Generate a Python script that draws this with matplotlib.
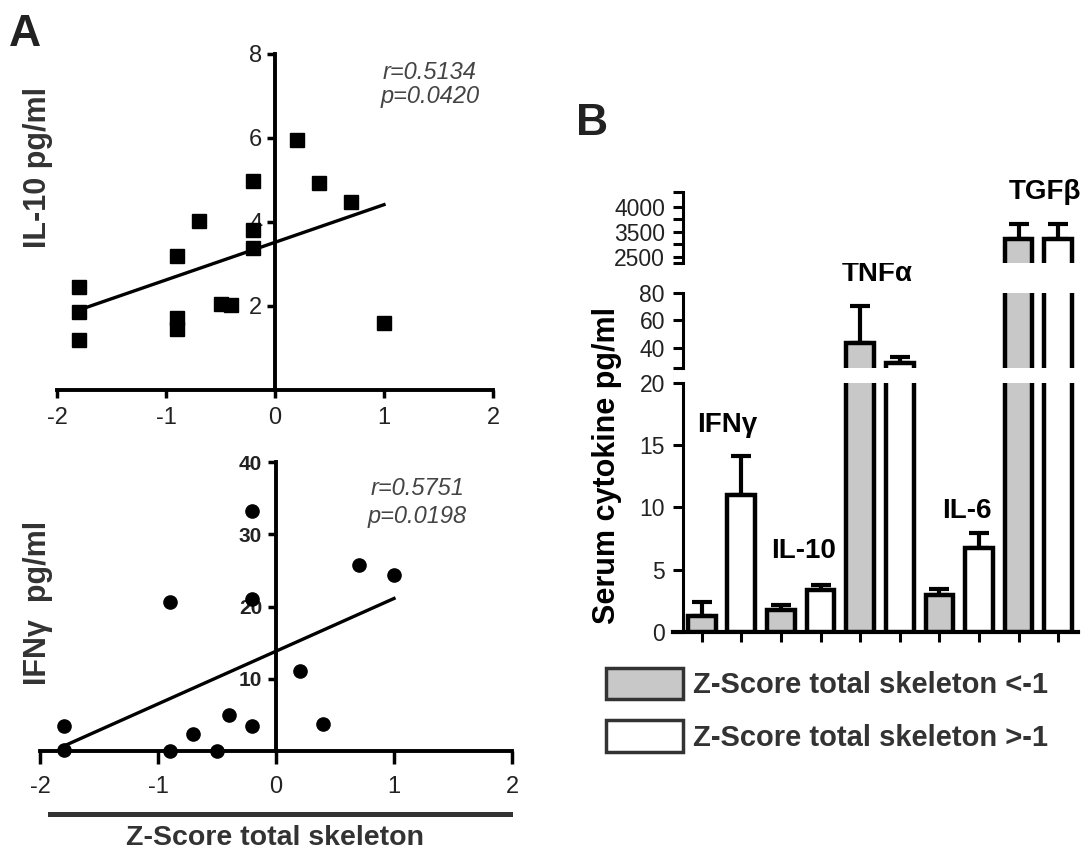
import numpy as np
import matplotlib
matplotlib.use("Agg")
import matplotlib.pyplot as plt
from matplotlib.patches import Patch
from matplotlib.lines import Line2D

plt.rcParams["font.family"] = ["Liberation Sans", "DejaVu Sans"]
plt.rcParams["axes.unicode_minus"] = False

# panel A, top: IL-10 vs z-score
il10_z = [-1.8, -1.8, -1.8, -0.9, -0.9, -0.9, -0.7, -0.5, -0.4, -0.2, -0.2, -0.2, 0.2, 0.4, 0.7, 1.0]
il10_val = [2.45, 1.85, 1.2, 3.2, 1.72, 1.45, 4.02, 2.05, 2.03, 4.97, 3.82, 3.38, 5.95, 4.93, 4.48, 1.6]
il10_stats = ["r=0.5134", "p=0.0420"]

# panel A, bottom: IFNg vs z-score
ifng_z = [-1.8, -1.8, -0.9, -0.9, -0.7, -0.5, -0.4, -0.2, -0.2, -0.2, 0.2, 0.4, 0.7, 1.0]
ifng_val = [3.5, 0.2, 20.6, 0.05, 2.4, 0.05, 5.0, 3.5, 21.1, 33.2, 11.1, 3.8, 25.8, 24.4]
ifng_stats = ["r=0.5751", "p=0.0198"]

# panel B: serum cytokines by group
cytokines = ["IFNγ", "IL-10", "TNFα", "IL-6", "TGFβ"]
low_mean = [1.3, 1.8, 43.5, 3.0, 3220]
low_err = [1.1, 0.4, 27.0, 0.45, 440]
high_mean = [11.0, 3.4, 28.8, 6.75, 3220]
high_err = [3.1, 0.38, 4.5, 1.2, 440]
groups = ["Z-Score total skeleton <-1", "Z-Score total skeleton >-1"]

W, H = 1085, 861
fig = plt.figure(figsize=(W / 100, H / 100), dpi=100)


def rect(x0, y0, x1, y1):
    # pixel box -> figure fraction
    return [x0 / W, 1 - y1 / H, (x1 - x0) / W, (y1 - y0) / H]


def style_scatter_ax(ax):
    for s in ["top", "right"]:
        ax.spines[s].set_visible(False)
    ax.spines["left"].set_position(("data", 0))
    ax.spines["bottom"].set_position(("data", 0))
    for s in ["left", "bottom"]:
        ax.spines[s].set_linewidth(2.8)
    ax.set_xlim(-2, 2)
    ax.set_xticks([-2, -1, 0, 1, 2])
    ax.tick_params(direction="out", length=6, width=2.5, labelsize=17, labelcolor="#222222")


# --- A top
ax1 = fig.add_axes(rect(57, 54, 493, 390))
ax1.plot(il10_z, il10_val, "s", color="black", ms=9.5, clip_on=False)
k, b = np.polyfit(il10_z, il10_val, 1)
xs = np.array([min(il10_z), max(il10_z)])
ax1.plot(xs, k * xs + b, color="black", lw=2.4)
style_scatter_ax(ax1)
ax1.set_ylim(0, 8)
ax1.set_yticks([2, 4, 6, 8])
ax1.tick_params(axis="y", pad=3)
ax1.tick_params(axis="x", pad=6)
ax1.text(1.42, 7.57, il10_stats[0], style="italic", color="#444444", fontsize=17, ha="center", va="center")
ax1.text(1.42, 6.98, il10_stats[1], style="italic", color="#444444", fontsize=17, ha="center", va="center")

# --- A bottom
ax2 = fig.add_axes(rect(40, 462, 512, 751))
ax2.plot(ifng_z, ifng_val, "o", color="black", ms=9.5, clip_on=False)
k, b = np.polyfit(ifng_z, ifng_val, 1)
xs = np.array([min(ifng_z), max(ifng_z)])
ax2.plot(xs, k * xs + b, color="black", lw=2.4)
style_scatter_ax(ax2)
ax2.set_ylim(0, 40)
ax2.set_yticks([10, 20, 30, 40])
ax2.tick_params(axis="x", length=9, pad=9)
ax2.tick_params(axis="y", labelsize=15, pad=4)
for t in ax2.get_yticklabels():
    t.set_fontweight("bold")
ax2.text(1.2, 36.4, ifng_stats[0], style="italic", color="#444444", fontsize=17, ha="center", va="center")
ax2.text(1.2, 32.4, ifng_stats[1], style="italic", color="#444444", fontsize=17, ha="center", va="center")

fig.text(38 / W, 1 - 167 / H, "IL-10 pg/ml", rotation=90, fontsize=22, fontweight="bold",
         color="#333333", ha="center", va="center")
fig.text(38 / W, 1 - 603 / H, "IFNγ  pg/ml", rotation=90, fontsize=22, fontweight="bold",
         color="#333333", ha="center", va="center")
fig.add_artist(Line2D([50 / W, 510 / W], [1 - 814 / H, 1 - 814 / H], color="#333333", lw=3.6,
                      transform=fig.transFigure))
fig.text(275 / W, 1 - 838 / H, "Z-Score total skeleton", fontsize=20.5, fontweight="bold",
         color="#333333", ha="center", va="center")
fig.text(9 / W, 1 - 14 / H, "A", fontsize=32, fontweight="bold", color="#222222", ha="left", va="top")
fig.text(576 / W, 1 - 103 / H, "B", fontsize=32, fontweight="bold", color="#222222", ha="left", va="top")

# --- B: broken y axis, three segments
x_low = np.arange(len(cytokines)) * 2
x_high = x_low + 1
xlim = (-(701.7 - 683) / 39.6, 9.5)
gray = "#c8c8c8"

axb = fig.add_axes(rect(683, 383, 1078, 632))
axm = fig.add_axes(rect(683, 293, 1078, 368))
axt = fig.add_axes(rect(683, 192, 1078, 263))

knots_v = [2000, 2500, 3500, 4000, 4500]
knots_s = [-0.5, 0, 1, 2, 3]
axt.set_yscale("function", functions=(lambda v: np.interp(v, knots_v, knots_s),
                                      lambda s: np.interp(s, knots_s, knots_v)))

for ax in [axb, axm, axt]:
    ax.bar(x_low, low_mean, width=0.7, color=gray, edgecolor="black", linewidth=3.2, zorder=3)
    ax.bar(x_high, high_mean, width=0.7, color="white", edgecolor="black", linewidth=3.2, zorder=3)
    ax.errorbar(x_low, low_mean, yerr=[np.zeros(len(low_err)), low_err], fmt="none", ecolor="black",
                elinewidth=3, capsize=7, capthick=3, zorder=2)
    ax.errorbar(x_high, high_mean, yerr=[np.zeros(len(high_err)), high_err], fmt="none", ecolor="black",
                elinewidth=3, capsize=7, capthick=3, zorder=2)
    ax.set_xlim(*xlim)
    for s in ["top", "right"]:
        ax.spines[s].set_visible(False)
    ax.spines["left"].set_linewidth(2.2)
    ax.tick_params(axis="y", direction="out", length=7, width=2.2, labelsize=16.5, pad=6,
                   labelcolor="#222222")
    ax.tick_params(axis="y", which="minor", length=7, width=2.2)

axb.set_ylim(0, 20)
axb.set_yticks([0, 5, 10, 15, 20])
axb.spines["bottom"].set_linewidth(3)
axb.spines["bottom"].set_bounds(xlim[0] - 0.25, xlim[1])
axb.set_xticks(np.arange(10))
axb.set_xticklabels([])
axb.tick_params(axis="x", direction="out", length=7, width=2.2)

axm.set_ylim(25, 80)
axm.set_yticks([40, 60, 80])
axm.set_yticks([25], minor=True)
axt.set_ylim(2260, 4300)
axt.set_yticks([2500, 3500, 4000])
axt.set_yticks([2260, 3000, 3750, 4300], minor=True)
axt.set_yticklabels(["2500", "3500", "4000"])
for ax in [axm, axt]:
    ax.spines["bottom"].set_visible(False)
    ax.set_xticks([])

lab_kw = dict(fontsize=20, fontweight="bold", ha="center", va="center", clip_on=False)
axb.text(0.64, 16.6, cytokines[0], **lab_kw)
axb.text(2.56, 6.5, cytokines[1], **lab_kw)
axm.text(4.43, 94, cytokines[2], **lab_kw)
axb.text(6.7, 9.7, cytokines[3], **lab_kw)
axt.text(8.67, 4300, cytokines[4], **lab_kw)

fig.text(607 / W, 1 - 465 / H, "Serum cytokine pg/ml", rotation=90, fontsize=22, fontweight="bold",
         ha="center", va="center")

handles = [Patch(facecolor=gray, edgecolor="#333333", linewidth=2.5),
           Patch(facecolor="white", edgecolor="#333333", linewidth=2.5)]
fig.legend(handles, groups, loc="upper left", bbox_to_anchor=(606 / W, 1 - 668 / H),
           frameon=False, borderpad=0, borderaxespad=0, handlelength=2.65, handleheight=1.28,
           handletextpad=0.34, labelspacing=0.72, labelcolor="#333333",
           prop={"weight": "bold", "size": 21})

fig.savefig("out.png", dpi=100)
